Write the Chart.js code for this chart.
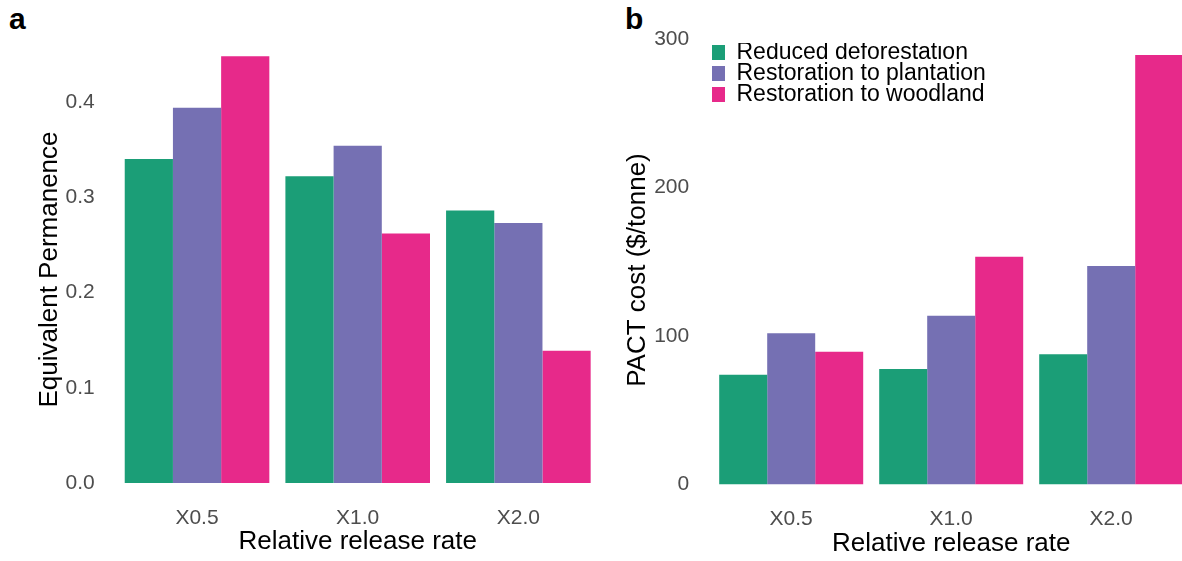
<!DOCTYPE html>
<html>
<head>
<meta charset="utf-8">
<script src="https://cdn.jsdelivr.net/npm/chart.js@4/dist/chart.umd.min.js"></script>
<style>
  html, body { margin: 0; padding: 0; background: #fff; }
  body { width: 1182px; height: 561px; overflow: hidden; position: relative; font-family: "Liberation Sans", Arial, sans-serif; }
  canvas { position: absolute; top: 0; }
  #chartA { left: 0; }
  #chartB { left: 600px; }
  .tag { position: absolute; font-weight: bold; font-size: 30px; line-height: 30px; color: #000; }
</style>
</head>
<body>
<div class="tag" style="left:9px; top:4px;">a</div>
<div class="tag" style="left:625px; top:4px;">b</div>
<canvas id="chartA" width="600" height="561"></canvas>
<canvas id="chartB" width="600" height="561"></canvas>
<script>
// Data
const categories = ['X0.5', 'X1.0', 'X2.0'];
const seriesNames = ['Reduced deforestation', 'Restoration to plantation', 'Restoration to woodland'];
const seriesColors = ['#1b9e77', '#7570b3', '#e7298a'];

const permanenceReduced = [0.340, 0.322, 0.286];
const permanencePlantation = [0.394, 0.354, 0.273];
const permanenceWoodland = [0.448, 0.262, 0.139];

const costReduced = [73.7, 77.7, 87.5];
const costPlantation = [101.7, 113.5, 147.1];
const costWoodland = [89.2, 153.3, 289.3];

const permanenceTicks = [0, 0.1, 0.2, 0.3, 0.4];
const costTicks = [0, 100, 200, 300];

const FONT = '"Liberation Sans", Arial, sans-serif';
const TICK_GREY = '#4d4d4d';

function makeDatasets(values) {
  return values.map((v, i) => ({
    label: seriesNames[i],
    data: v,
    backgroundColor: seriesColors[i],
    borderWidth: 0,
    categoryPercentage: 0.9,
    barPercentage: 1.0,
  }));
}

// moves the legend to a fixed spot inside the panel
const legendPlacer = {
  id: 'legendPlacer',
  afterLayout(chart, args, opts) {
    const lg = chart.legend;
    if (!lg || opts.left === undefined) return;
    const w = lg.width, h = lg.height;
    lg.left = opts.left;
    lg.top = opts.top;
    lg.right = lg.left + w;
    lg.bottom = lg.top + h;
  }
};

function makeChart(id, p) {
  return new Chart(document.getElementById(id), {
    type: 'bar',
    data: { labels: categories, datasets: makeDatasets(p.values) },
    plugins: [legendPlacer],
    options: {
      responsive: false,
      animation: false,
      layout: { padding: { top: p.padTop, right: p.padRight, bottom: 0, left: 0 } },
      plugins: {
        tooltip: { enabled: false },
        legend: {
          display: p.legend,
          position: 'chartArea',
          align: 'start',
          labels: {
            boxWidth: 15,
            boxHeight: 15,
            padding: -2,
            color: '#000',
            font: { family: FONT, size: 23 },
          },
        },
        legendPlacer: p.legendPos || {},
      },
      scales: {
        x: {
          grid: { display: false, drawTicks: false },
          border: { display: false },
          ticks: { color: TICK_GREY, font: { family: FONT, size: 21 }, padding: 1, maxRotation: 0, autoSkip: false },
          title: { display: true, text: 'Relative release rate', color: '#000', font: { family: FONT, size: 26 }, padding: { top: 0, bottom: p.xTitlePad } },
          afterFit: s => { s.height = p.xHeight; },
        },
        y: {
          min: p.yMin,
          max: p.yMax,
          grid: { display: false, drawTicks: false },
          border: { display: false },
          afterBuildTicks: axis => { axis.ticks = p.ticks.map(v => ({ value: v })); },
          ticks: { color: TICK_GREY, font: { family: FONT, size: 21 }, padding: 22, callback: p.fmt },
          title: { display: true, text: p.yTitle, color: '#000', font: { family: FONT, size: 26 }, padding: { top: p.yTitlePad, bottom: 0 } },
          afterFit: s => { s.width = p.yWidth; },
        },
      },
    },
  });
}

makeChart('chartA', {
  values: [permanenceReduced, permanencePlantation, permanenceWoodland],
  ticks: permanenceTicks,
  fmt: v => v.toFixed(1),
  yMin: -0.0224, yMax: 0.4707,
  yTitle: 'Equivalent Permanence',
  padTop: 33.7, padRight: 1.3,
  xHeight: 56.6, yWidth: 116.7,
  xTitlePad: 3.5, yTitlePad: 34,
  legend: false,
});

makeChart('chartB', {
  values: [costReduced, costPlantation, costWoodland],
  ticks: costTicks,
  fmt: v => String(v),
  yMin: -14.4, yMax: 303.1,
  yTitle: 'PACT cost ($/tonne)',
  padTop: 32.1, padRight: 8.8,
  xHeight: 55.5, yWidth: 111.2,
  xTitlePad: 1.7, yTitlePad: 22.5,
  legend: true,
  legendPos: { left: 112, top: 43 },
});
</script>
</body>
</html>
